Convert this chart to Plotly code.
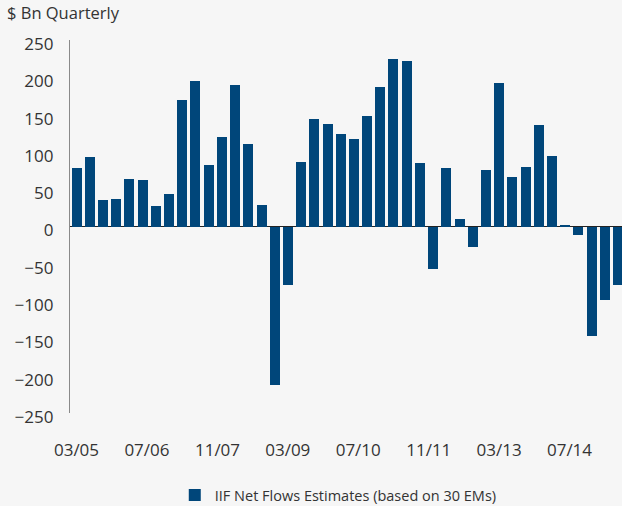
import plotly.graph_objects as go

# Quarterly dates (first of quarter-end month), Mar 2005 .. Jun 2015
quarters = [f"{y}-{m:02d}-01" for y in range(2005, 2016) for m in (3, 6, 9, 12)][:42]

net_flows = [78, 93, 36, 37, 64, 63, 28, 43, 170, 195, 82, 120, 190, 110, 29,
             -212, -78, 86, 144, 138, 124, 117, 148, 187, 225, 222, 85, -57,
             79, 10, -28, 76, 193, 66, 80, 136, 95, 2, -12, -147, -99, -79]

tick_dates = ["2005-03-01", "2006-07-01", "2007-11-01", "2009-03-01",
              "2010-07-01", "2011-11-01", "2013-03-01", "2014-07-01"]
y_ticks = [250, 200, 150, 100, 50, 0, -50, -100, -150, -200, -250]

series_name = "IIF Net Flows Estimates (based on 30 EMs)"
bar_color = "#00467a"
text_color = "#333333"
font_family = "Open Sans"

fig = go.Figure()
fig.add_trace(go.Bar(
    x=quarters, y=net_flows, name=series_name,
    marker=dict(color=bar_color, line=dict(width=0)),
    width=[69 * 86400000] * len(quarters),
))

fig.update_layout(
    width=622, height=506,
    paper_bgcolor="#f6f6f6", plot_bgcolor="#f6f6f6",
    margin=dict(l=69.5, r=0, t=39.5, b=93, pad=0, autoexpand=False),
    font=dict(family=font_family, size=17, color=text_color),
    title=dict(text="$ Bn Quarterly", x=7 / 622, xanchor="left",
               y=1 - 13.5 / 506, yanchor="middle",
               font=dict(size=16.5, color=text_color)),
    showlegend=True,
    legend=dict(orientation="h", x=0.486, xanchor="center",
                yref="container", y=(506 - 495) / 506,
                yanchor="middle", font=dict(size=14.5, color=text_color),
                bgcolor="rgba(0,0,0,0)"),
    xaxis=dict(type="date", range=["2005-01-15", "2015-06-29"],
               tickvals=tick_dates, tickformat="%m/%y",
               showgrid=False, showline=False, zeroline=False, ticks="",
               ticklabelstandoff=25, tickfont=dict(size=17)),
    yaxis=dict(range=[-250, 250], tickvals=y_ticks, showgrid=False,
               showline=True, linecolor="#8a8a8a", linewidth=1.3,
               zeroline=True, zerolinecolor="#222222", zerolinewidth=1,
               ticks="", ticklabelstandoff=12, ticklabelshift=4,
               tickfont=dict(size=17)),
    bargap=0,
)

fig.write_html("out.html", config={"displayModeBar": False},
               post_script="document.body.style.margin='0px';document.body.style.background='#f6f6f6';")
